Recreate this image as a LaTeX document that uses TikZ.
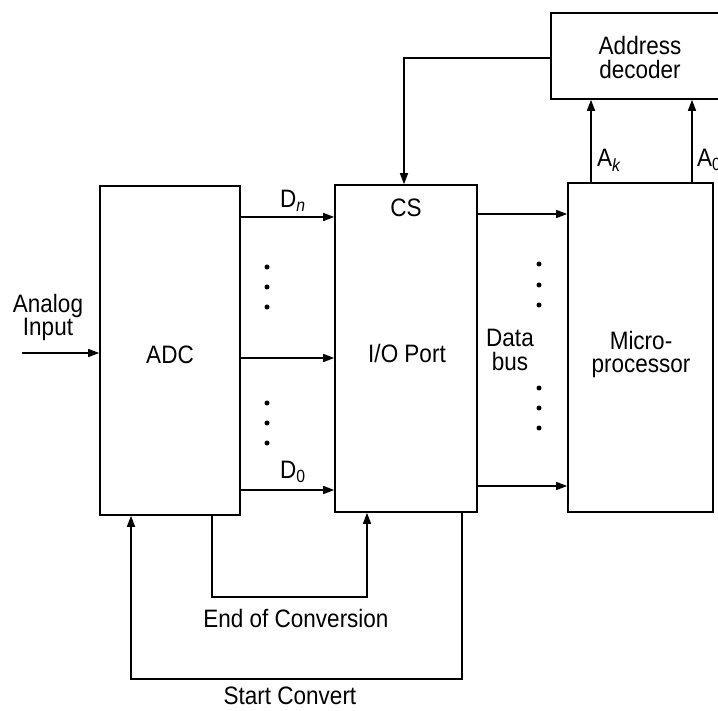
\documentclass[tikz,border=0pt]{standalone}
\usepackage{fontspec}
\setmainfont{Liberation Sans}
\usetikzlibrary{arrows.meta}
\newcommand\stt[1]{\scalebox{1}[1.12]{#1}}
\begin{document}
\begin{tikzpicture}[x=1pt,y=-1pt,
  box/.style={draw,line width=1.6pt,inner sep=0pt,align=center},
  lbl/.style={inner sep=0pt,align=center,font=\fontsize{22.5}{26}\selectfont},
  arr/.style={line width=1.4pt,-{Triangle[length=11pt,width=8pt]}},
  dotc/.style={fill,circle,inner sep=0pt,minimum size=5pt}]
\useasboundingbox (0,0) rectangle (718,711);
% boxes
\node[box,minimum width=140pt,minimum height=329pt] (adc) at (170,350.5) {};
\node[box,minimum width=142pt,minimum height=327pt] (io) at (406,348.5) {};
\node[box,minimum width=145pt,minimum height=329pt] (mp) at (640.5,347.5) {};
\node[box,minimum width=180pt,minimum height=86pt] (dec) at (641,56) {};
% labels
\node[lbl] (adct) at (170,355) {\stt{ADC}};
\node[lbl] (iot) at (407,353) {\stt{I/O Port}};
\node[lbl] (cst) at (406,208) {\stt{CS}};
\node[lbl] (mpt) at (641,354) {\stt{Micro-}\\[-3pt]\stt{processor}};
\node[lbl] (dect) at (640,57) {\stt{Address}\\[-2pt]\stt{decoder}};
\node[lbl] (ain) at (48,317) {\stt{Analog}\\[-3pt]\stt{Input}};
\node[lbl] (dbus) at (510,350) {\stt{Data}\\[-2pt]\stt{bus}};
\node[lbl,anchor=west] (dn) at (280,201) {\stt{D\textsubscript{\textit{n}}}};
\node[lbl,anchor=west] (d0) at (280,472) {\stt{D\textsubscript{0}}};
\node[lbl,anchor=west] (ak) at (597,160) {\stt{A\textsubscript{\textit{k}}}};
\node[lbl,anchor=west] (a0) at (697,160) {\stt{A\textsubscript{0}}};
\node[lbl] (eoc) at (296,618) {\stt{End of Conversion}};
\node[lbl] (sc) at (290,696) {\stt{Start Convert}};
% analog input
\coordinate (ainl) at (22,353);
\draw[arr] (ainl) -- (adc.west |- ainl);
% data lines ADC -> IO
\draw[arr] (adc.east |- 0,217) -- (io.west |- 0,217);
\draw[arr] (adc.east |- 0,358) -- (io.west |- 0,358);
\draw[arr] (adc.east |- 0,490) -- (io.west |- 0,490);
\foreach \y in {267,287,307,403,423,443} \node[dotc] at (267,\y) {};
% data bus IO -> MP
\draw[arr] (io.east |- 0,214) -- (mp.west |- 0,214);
\draw[arr] (io.east |- 0,486) -- (mp.west |- 0,486);
\foreach \y in {264,285,305,388,408,428} \node[dotc] at (539,\y) {};
% address lines
\draw[arr] (mp.north -| 591,0) -- (dec.south -| 591,0);
\draw[arr] (mp.north -| 692,0) -- (dec.south -| 692,0);
% decoder -> CS
\draw[arr] (dec.west |- 0,58) -| (io.north -| 404,0);
% end of conversion
\draw[arr] (adc.south -| 212,0) -- (212,597) -- (367,597) -- (io.south -| 367,0);
% start convert
\draw[arr] (io.south -| 462,0) -- (462,679) -- (131,679) -- (adc.south -| 131,0);
\end{tikzpicture}
\end{document}
